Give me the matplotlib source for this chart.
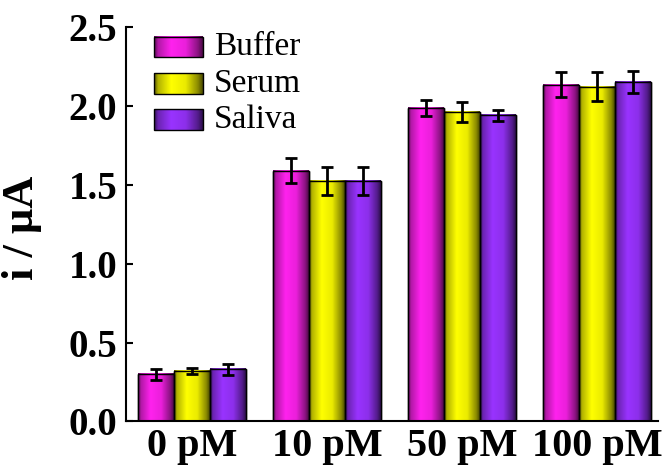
import numpy as np
import matplotlib
matplotlib.use("Agg")
import matplotlib.pyplot as plt
from matplotlib.colors import to_rgb
from matplotlib.patches import Rectangle

# data
groups = ["0 pM", "10 pM", "50 pM", "100 pM"]
series = ["Buffer", "Serum", "Saliva"]
buffer_vals = [0.30, 1.59, 1.985, 2.135]
serum_vals = [0.32, 1.525, 1.96, 2.12]
saliva_vals = [0.33, 1.525, 1.94, 2.15]
buffer_err = [0.034, 0.081, 0.05, 0.081]
serum_err = [0.02, 0.09, 0.064, 0.092]
saliva_err = [0.033, 0.09, 0.035, 0.068]
colors = ["#ff22ee", "#ffff00", "#9933ff"]

plt.rcParams["font.family"] = ["Liberation Serif", "DejaVu Serif"]

# cylinder-like shading across each bar
t = np.linspace(0, 1, 64)
shade = np.interp(t, [0, 0.08, 0.35, 0.65, 0.9, 1.0], [0.35, 0.7, 1.0, 0.92, 0.55, 0.3])

def grad_img(c):
    return np.clip(np.array(to_rgb(c))[None, None, :] * shade[None, :, None], 0, 1)

fig = plt.figure(figsize=(6.72, 4.73), dpi=100)
ax = fig.add_axes([0.1868, 0.1089, 0.7922, 0.8341])

x = np.arange(len(groups))
w = 0.8 / 3
vals = [buffer_vals, serum_vals, saliva_vals]
errs = [buffer_err, serum_err, saliva_err]
for i in range(3):
    pos = x + (i - 1) * w
    bars = ax.bar(pos, vals[i], w, color=colors[i], edgecolor="black", linewidth=1, zorder=2)
    for b in bars:
        bx, by, bw, bh = b.get_x(), b.get_y(), b.get_width(), b.get_height()
        ax.imshow(grad_img(colors[i]), extent=[bx, bx + bw, by, by + bh],
                  aspect="auto", zorder=2.5, interpolation="bilinear")
        ax.add_patch(Rectangle((bx, by), bw, bh, fill=False, edgecolor="black",
                               linewidth=1, zorder=3))
    ax.errorbar(pos, vals[i], yerr=errs[i], fmt="none", ecolor="black",
                elinewidth=2, capsize=4.5, capthick=2, zorder=4)

ax.set_xticks(x)
ax.set_xticklabels(groups, fontsize=29, fontweight="bold")
ax.set_yticks([0, 0.5, 1.0, 1.5, 2.0, 2.5])
ax.set_yticklabels(["0.0", "0.5", "1.0", "1.5", "2.0", "2.5"], fontsize=28, fontweight="bold")
ax.tick_params(axis="both", direction="in", length=5, width=1.5)
ax.tick_params(axis="x", pad=5)
ax.tick_params(axis="y", pad=6)
ax.spines["top"].set_visible(False)
ax.spines["right"].set_visible(False)
ax.spines["left"].set_linewidth(1.5)
ax.spines["bottom"].set_linewidth(1.5)
fig.text(22 / 672, 0.518, "i / μA", fontsize=32, fontweight="bold",
         rotation=90, ha="center", va="center")

# legend drawn by hand so the swatches carry the same shading
for i, name in enumerate(series):
    yc = 0.949 - i * 0.092
    ax.imshow(grad_img(colors[i]), extent=[0.0535, 0.1455, yc - 0.026, yc + 0.026],
              transform=ax.transAxes, aspect="auto", zorder=5, interpolation="bilinear")
    ax.add_patch(Rectangle((0.0535, yc - 0.026), 0.092, 0.052, transform=ax.transAxes,
                           fill=False, edgecolor="black", linewidth=1, zorder=6))
    ax.text(0.166, yc, name, transform=ax.transAxes, fontsize=24,
            va="center", ha="left", zorder=6)

ax.set_xlim(-0.493, 3.452)
ax.set_ylim(0, 2.5)
fig.savefig("out.png", dpi=100)
